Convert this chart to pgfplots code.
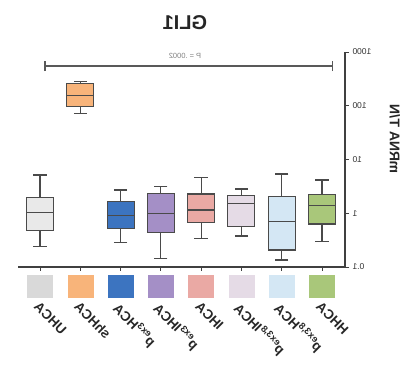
\documentclass[border=0pt]{standalone}
\usepackage{pgfplots}
\pgfplotsset{compat=1.18}
\usepgfplotslibrary{statistics}
\usepackage{graphicx}
\usepackage{fontspec}
\setmainfont{Liberation Sans}
\definecolor{cGray}{HTML}{E9E9E9}
\definecolor{sGray}{HTML}{D9D9D9}
\definecolor{cOrange}{HTML}{F8B47A}
\definecolor{cBlue}{HTML}{3C74C0}
\definecolor{cPurple}{HTML}{A48FC6}
\definecolor{cPink}{HTML}{EAA9A4}
\definecolor{cLav}{HTML}{E5DBE6}
\definecolor{cLBlue}{HTML}{D4E7F4}
\definecolor{cGreen}{HTML}{A9C77A}
\definecolor{edge}{HTML}{4A4A4A}
\definecolor{axc}{HTML}{404040}
\begin{document}
\begin{tikzpicture}[x=1pt,y=1pt]
\path[use as bounding box] (-18,-108) rectangle (395,267);
\begin{axis}[
  at={(0,0)}, anchor=south west,
  width=327pt, height=215pt, scale only axis,
  xmin=-0.571, xmax=7.546, x dir=reverse,
  ymode=log, ymin=0.1, ymax=1000,
  axis x line*=bottom, axis y line*=right,
  axis line style={axc, line width=1.1pt},
  every tick/.style={axc, line width=0.9pt},
  tick align=outside, major tick length=4pt,
  xtick={0,...,7},
  xticklabels={\reflectbox{HHCA},\reflectbox{p\textsuperscript{ex3,8}HCA},\reflectbox{p\textsuperscript{ex3,8}IHCA},\reflectbox{IHCA},\reflectbox{p\textsuperscript{ex3}IHCA},\reflectbox{p\textsuperscript{ex3}HCA},\reflectbox{shHCA},\reflectbox{UHCA}},
  xticklabel style={font=\fontsize{13.5}{15}\selectfont\bfseries, text=black!85, rotate=-45, anchor=north west},
  xticklabel shift=25pt,
  ytick={0.1,1,10,100,1000},
  yticklabels={\reflectbox{0.1},\reflectbox{1},\reflectbox{10},\reflectbox{100},\reflectbox{1000}},
  yticklabel style={font=\fontsize{8.5}{9}\selectfont, text=black!80},
  yminorticks=false,
  clip=false,
  boxplot/draw direction=y,
  boxplot/box extend=0.67,
  boxplot/whisker extend=0.33,
]
% boxes (index 0 = HHCA, nearest the y axis)
\addplot[boxplot prepared={draw position=0, lower whisker=0.296, lower quartile=0.63, median=1.38, upper quartile=2.25, upper whisker=4.16}, draw=edge, fill=cGreen, line width=1.1pt] coordinates {};
\addplot[boxplot prepared={draw position=1, lower whisker=0.135, lower quartile=0.207, median=0.708, upper quartile=2.03, upper whisker=5.37}, draw=edge, fill=cLBlue, line width=1.1pt] coordinates {};
\addplot[boxplot prepared={draw position=2, lower whisker=0.377, lower quartile=0.562, median=1.49, upper quartile=2.12, upper whisker=2.83}, draw=edge, fill=cLav, line width=1.1pt] coordinates {};
\addplot[boxplot prepared={draw position=3, lower whisker=0.341, lower quartile=0.668, median=1.15, upper quartile=2.28, upper whisker=4.59}, draw=edge, fill=cPink, line width=1.1pt] coordinates {};
\addplot[boxplot prepared={draw position=4, lower whisker=0.145, lower quartile=0.435, median=1.0, upper quartile=2.35, upper whisker=3.12}, draw=edge, fill=cPurple, line width=1.1pt] coordinates {};
\addplot[boxplot prepared={draw position=5, lower whisker=0.284, lower quartile=0.525, median=0.90, upper quartile=1.64, upper whisker=2.71}, draw=edge, fill=cBlue, line width=1.1pt] coordinates {};
\addplot[boxplot prepared={draw position=6, lower whisker=72, lower quartile=96, median=158, upper quartile=262, upper whisker=280}, draw=edge, fill=cOrange, line width=1.1pt] coordinates {};
\addplot[boxplot prepared={draw position=7, lower whisker=0.239, lower quartile=0.474, median=1.05, upper quartile=1.98, upper whisker=5.15}, draw=edge, fill=cGray, line width=1.1pt] coordinates {};
% colour swatches under the axis
\addplot[only marks, mark=square*, color=cGreen, mark size=11pt, mark options={xscale=1.14, solid}] coordinates {(0,0.0443)};
\addplot[only marks, mark=square*, color=cLBlue, mark size=11pt, mark options={xscale=1.14, solid}] coordinates {(1,0.0443)};
\addplot[only marks, mark=square*, color=cLav, mark size=11pt, mark options={xscale=1.14, solid}] coordinates {(2,0.0443)};
\addplot[only marks, mark=square*, color=cPink, mark size=11pt, mark options={xscale=1.14, solid}] coordinates {(3,0.0443)};
\addplot[only marks, mark=square*, color=cPurple, mark size=11pt, mark options={xscale=1.14, solid}] coordinates {(4,0.0443)};
\addplot[only marks, mark=square*, color=cBlue, mark size=11pt, mark options={xscale=1.14, solid}] coordinates {(5,0.0443)};
\addplot[only marks, mark=square*, color=cOrange, mark size=11pt, mark options={xscale=1.14, solid}] coordinates {(6,0.0443)};
\addplot[only marks, mark=square*, color=sGray, mark size=11pt, mark options={xscale=1.14, solid}] coordinates {(7,0.0443)};
% significance bracket
\draw[gray!70!black, line width=1.1pt] (axis cs:-0.27,549) -- (axis cs:6.875,549);
\draw[gray!70!black, line width=1.1pt] (axis cs:-0.27,549) ++(0pt,-5pt) -- ++(0pt,10pt);
\draw[gray!70!black, line width=1.1pt] (axis cs:6.875,549) ++(0pt,-5pt) -- ++(0pt,10pt);
\node[font=\fontsize{7.5}{8}\selectfont, text=gray] at (axis cs:3.4,549) [yshift=10pt] {\reflectbox{P = .0002}};
% title and y label
\node[font=\fontsize{20}{22}\selectfont\bfseries, text=black!85] at (axis cs:3.4,3467) {\reflectbox{GLI1}};
\node[rotate=-90, font=\fontsize{14}{16}\selectfont\bfseries, text=black!85] at (axis cs:-1.81,24) {\reflectbox{mRNA T/N}};
\end{axis}
\end{tikzpicture}
\end{document}
